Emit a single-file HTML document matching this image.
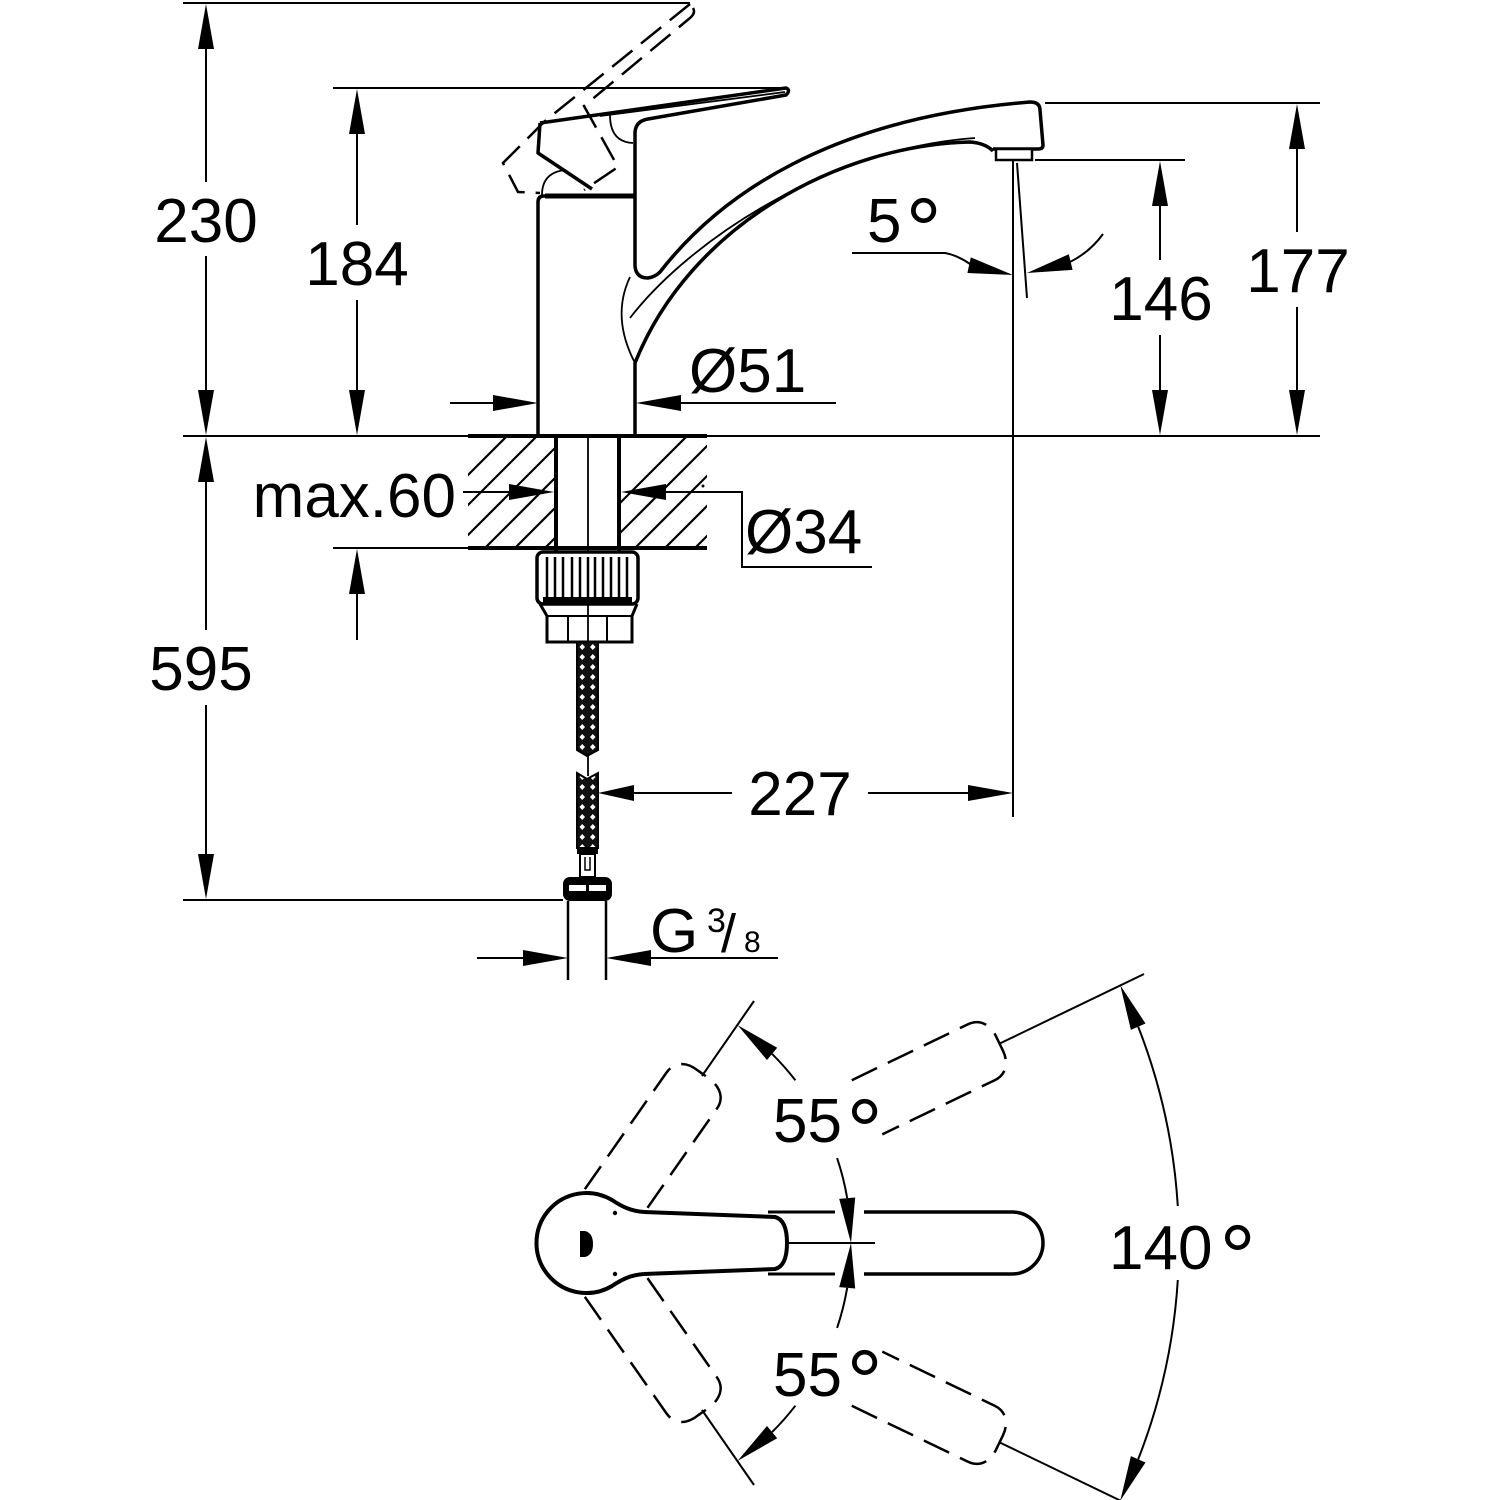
<!DOCTYPE html>
<html><head><meta charset="utf-8"><style>
html,body{margin:0;padding:0;background:#fff;}
svg{display:block;}
text{font-family:"Liberation Sans",Arial,sans-serif;fill:#000;}
</style></head><body>
<svg width="1500" height="1500" viewBox="0 0 1500 1500" xmlns="http://www.w3.org/2000/svg">
<defs>
<clipPath id="hl"><rect x="468" y="437" width="86" height="110"/></clipPath>
<clipPath id="hr"><rect x="621" y="437" width="86" height="110"/></clipPath>
<pattern id="braid" x="577" y="642" width="10.5" height="10" patternUnits="userSpaceOnUse">
<rect width="10.5" height="10" fill="#111"/>
<path d="M5.25,2 L8,5 L5.25,8 L2.5,5 Z" fill="#fff"/>
</pattern>
</defs>
<rect width="1500" height="1500" fill="#fff"/>

<!-- dimension lines -->
<g fill="none" stroke="#000" stroke-width="2">
<path d="M183,3 H690 M333,88 H783 M183,436 H1320 M1045,103 H1320 M1035,160 H1185 M333,548 H707 M183,900 H563"/>
<path d="M206,49 V182 M206,256 V390 M206,482 V630 M206,705 V854"/>
<path d="M357,134 V225 M357,300 V390 M357,594 V640"/>
<path d="M1160,206 V260 M1160,335 V390 M1297,149 V232 M1297,307 V390"/>
<path d="M450,403 H494 M680,403 H836"/>
<path d="M463,492 H510 M665,492 H742 V567 H872"/>
<path d="M633,793 H732 M868,793 H969"/>
<path d="M477,958 H524 M650,958 H778"/>
<path d="M1013,160 V817"/>
<path d="M1017,163 L1027,298"/>
<path d="M852,253 H945 Q957,255 970,264"/>
<path d="M1070,262 Q1090,252 1103,234"/>
</g>
<circle cx="703" cy="486" r="1.5" fill="#000"/>

<!-- arrowheads -->
<g fill="#000">
<polygon points="206,4 198,49 214,49"/>
<polygon points="206,435 198,390 214,390"/>
<polygon points="206,437 198,482 214,482"/>
<polygon points="206,899 198,854 214,854"/>
<polygon points="357,89 349,134 365,134"/>
<polygon points="357,435 349,390 365,390"/>
<polygon points="357,549 349,594 365,594"/>
<polygon points="1160,161 1152,206 1168,206"/>
<polygon points="1160,435 1152,390 1168,390"/>
<polygon points="1297,104 1289,149 1305,149"/>
<polygon points="1297,435 1289,390 1305,390"/>
<polygon points="538,403 493,395 493,411"/>
<polygon points="636,403 681,395 681,411"/>
<polygon points="554,492 509,484 509,500"/>
<polygon points="621,492 666,484 666,500"/>
<polygon points="598,793 634,785 634,801"/>
<polygon points="1013,793 968,785 968,801"/>
<polygon points="568,958 523,950 523,966"/>
<polygon points="606,958 651,950 651,966"/>
<polygon points="1013,275 970.8,257.4 967.4,273"/>
<polygon points="1027,273 1072.6,269.9 1068.8,254.3"/>
</g>

<!-- hatching -->
<g stroke="#000" stroke-width="2.2" fill="none">
<g clip-path="url(#hl)">
<path d="M395,548 l112,-112 M425,548 l112,-112 M455,548 l112,-112 M485,548 l112,-112 M515,548 l112,-112 M545,548 l112,-112"/>
</g>
<g clip-path="url(#hr)">
<path d="M575,548 l112,-112 M605,548 l112,-112 M635,548 l112,-112 M665,548 l112,-112 M695,548 l112,-112 M725,548 l112,-112"/>
</g>
</g>
<path d="M468,436 H707 M468,548 H707" stroke="#000" stroke-width="4" fill="none"/>

<!-- faucet side view -->
<g fill="none" stroke="#000" stroke-width="3.5" stroke-linejoin="round">
<path d="M538,436 V202 Q538,196 544,196 H635"/>
<path d="M545,196 H635" stroke-width="5"/>
<path d="M540,123 L538,153 L592,189"/>
<path d="M540,123 L786,88 Q791,90 786,95 L648,119 Q636,121 635,132 L635,266 Q636,278 648,278 Q655,277 660,272 C720,195 830,118 1030,102 Q1040,102 1040,110 L1043,145 Q1043,149 1038,149 L993,149"/>
<path d="M993,151 Q985,143 970,142 C840,145 690,225 635,363 L635,436"/>
</g>
<g fill="none" stroke="#000" stroke-width="1.8">
<path d="M600,116 L785,92"/>
<path d="M542,195 Q542,172 566,170"/>
<path d="M610,115 Q610,142 633,143"/>
<path d="M630,277 Q611,317 635,363"/>
<path d="M630,318 C690,240 830,148 975,138"/>
</g>
<rect x="996" y="149" width="36" height="11" fill="#fff" stroke="#000" stroke-width="2.5"/>
<g fill="none" stroke="#000" stroke-width="2.5" stroke-dasharray="26 11">
<path d="M690,4 L545,121 L503,163 L518,192 L540,193"/>
<path d="M693,8 Q696,13 690,18 L584,106 L618,167 L584,190"/>
</g>

<!-- shank and nut -->
<g fill="none" stroke="#000">
<path d="M556,436 V551 M619,436 V551" stroke-width="4"/>
<path d="M588,436 V642" stroke-width="1.8"/>
<rect x="537" y="552" width="101" height="52" rx="6" stroke-width="3.5" fill="#fff"/>
<path d="M547,557 V598 M555,557 V598 M563,557 V598 M572,557 V598 M580,557 V598 M588,557 V598 M595,557 V598 M603,557 V598 M611,557 V598 M619,557 V598 M627,557 V598" stroke-width="2.5"/>
<path d="M543,600 H632" stroke-width="6"/>
<path d="M540,604 L547,616 V642 H632 V616 L637,604" stroke-width="3"/>
<path d="M547,616 H632 M568,616 V642 M607,616 V642" stroke-width="2"/>
</g>
<path d="M577,642 H598 V750 L587,756 L577,750 Z" fill="url(#braid)" stroke="#000" stroke-width="2"/>
<path d="M588,756 V776" stroke="#000" stroke-width="1.8"/>
<path d="M577,773 L587,779 L598,773 V848 H577 Z" fill="url(#braid)" stroke="#000" stroke-width="2"/>
<rect x="577" y="847" width="21" height="7" fill="#000"/>
<rect x="580" y="854" width="15" height="23" fill="#fff" stroke="#000" stroke-width="2"/>
<path d="M585,857 V870 H590 V857" fill="none" stroke="#000" stroke-width="1.5"/>
<rect x="563" y="877" width="49" height="24" rx="7" fill="#000"/>
<rect x="569" y="885" width="37" height="6" fill="#fff"/>
<rect x="586" y="885" width="3" height="6" fill="#000"/>
<path d="M568,901 V980 M606,901 V980" stroke="#000" stroke-width="2.5" fill="none"/>

<!-- top view -->
<g fill="none" stroke="#000" stroke-width="4" stroke-linejoin="round">
<path d="M644,1212 C630,1211 621,1206 612,1200 A50,50 0 1 0 612,1286 C621,1280 630,1275 644,1274"/>
<path d="M644,1212 L775,1217 Q787,1220 787,1243 Q787,1266 775,1269 L644,1274"/>
<path d="M864,1212 H1012 A31,31 0 0 1 1012,1274 H864" stroke-width="3.5"/>
<path d="M768,1212 H835 M768,1274 H835" stroke-width="3"/>
<path d="M787,1243 H875" stroke-width="2"/>
</g>
<path d="M580,1231 L585,1231 Q593,1233 593,1244 Q593,1255 585,1257 L580,1257 Z" fill="#000"/>
<circle cx="615" cy="1213" r="2.2" fill="#000"/>
<circle cx="615" cy="1274" r="2.2" fill="#000"/>

<g id="half">
<g fill="none" stroke="#000" stroke-width="2.5" stroke-dasharray="28 12">
<path transform="rotate(-55 585 1243)" d="M629,1212 L771,1212 C785,1212 792,1222 791,1237 L791,1251 C790,1265 783,1274 771,1274 L647,1274"/>
<path transform="rotate(-25.7 585 1243)" d="M896,1212 L1025,1212 C1037,1212 1045,1221 1045,1235 L1045,1251 C1045,1265 1037,1274 1025,1274 L900,1274"/>
</g>
<g fill="none" stroke="#000" stroke-width="2">
<path d="M702,1076 L754,1001"/>
<path d="M1000,1043.4 L1144,974"/>
<path d="M772.1,1053.9 A266,266 0 0 1 795.4,1080.3"/>
<path d="M837.1,1158.1 A266,266 0 0 1 847.2,1198.2"/>
<path d="M1138.2,1026.7 A594,594 0 0 1 1177.8,1206"/>
</g>
<g fill="#000">
<polygon points="737.6,1025.1 777.2,1047.8 767,1060"/>
<polygon points="851,1243 855.2,1197.5 839.2,1198.9"/>
<polygon points="1120.3,985.4 1145.5,1023.5 1130.9,1029.9"/>
</g>
</g>
<use href="#half" transform="matrix(1 0 0 -1 0 2486)"/>

<!-- labels -->
<g font-size="62">
<text x="206" y="242" text-anchor="middle">230</text>
<text x="357" y="285" text-anchor="middle">184</text>
<text x="201" y="690" text-anchor="middle">595</text>
<text x="456" y="517" text-anchor="end">max.60</text>
<text x="1161" y="320" text-anchor="middle">146</text>
<text x="1298" y="292" text-anchor="middle">177</text>
<text x="689" y="392">Ø51</text>
<text x="745" y="553">Ø34</text>
<text x="800" y="815" text-anchor="middle">227</text>
<text x="867" y="242">5</text>
<text x="650" y="952">G</text>
<text x="773" y="1142">55</text>
<text x="773" y="1396">55</text>
<text x="1109" y="1269">140</text>
</g>
<text x="707" y="932" font-size="34">3</text>
<text x="721" y="952" font-size="54">/</text>
<text x="744" y="952" font-size="30">8</text>
<g font-size="90">
<text x="905.6" y="261">°</text>
<text x="846.6" y="1162">°</text>
<text x="846.6" y="1413">°</text>
<text x="1219.6" y="1288">°</text>
</g>
</svg>
</body></html>
